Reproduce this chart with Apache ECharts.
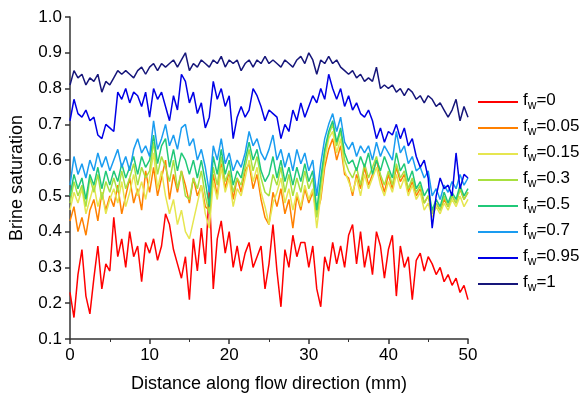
<!DOCTYPE html>
<html>
<head>
<meta charset="utf-8">
<script src="https://cdn.jsdelivr.net/npm/echarts@6/dist/echarts.min.js"></script>
<style>
  html, body { margin: 0; padding: 0; background: #fff; }
  #chart { width: 584px; height: 399px; }
</style>
</head>
<body>
<div id="chart"></div>
<script>
// distance sampled every 0.5 mm, 0..50
const step = 0.5;

const fw0 = [0.23,0.16,0.28,0.35,0.22,0.17,0.27,0.36,0.24,0.31,0.29,
  0.44,0.33,0.38,0.30,0.40,0.33,0.36,0.26,0.37,0.34,
  0.38,0.32,0.36,0.45,0.42,0.35,0.31,0.27,0.33,0.21,
  0.38,0.29,0.41,0.31,0.52,0.24,0.38,0.43,0.34,0.40,
  0.30,0.36,0.29,0.34,0.37,0.30,0.33,0.36,0.24,0.31,
  0.42,0.29,0.19,0.35,0.30,0.39,0.33,0.37,0.37,0.30,
  0.36,0.24,0.19,0.33,0.29,0.37,0.31,0.36,0.30,0.39,
  0.42,0.31,0.40,0.30,0.36,0.28,0.40,0.36,0.27,0.35,
  0.39,0.22,0.36,0.30,0.33,0.21,0.32,0.34,0.29,0.33,
  0.31,0.28,0.30,0.26,0.28,0.25,0.27,0.23,0.25,0.21];

const fw005 = [0.43,0.47,0.40,0.44,0.39,0.46,0.49,0.43,0.51,0.46,0.50,
  0.47,0.53,0.45,0.50,0.55,0.48,0.52,0.46,0.57,0.51,
  0.58,0.50,0.55,0.60,0.49,0.56,0.51,0.57,0.53,0.48,
  0.55,0.50,0.53,0.47,0.46,0.56,0.50,0.59,0.52,0.57,
  0.49,0.55,0.51,0.57,0.59,0.52,0.56,0.49,0.44,0.42,
  0.51,0.47,0.52,0.45,0.49,0.41,0.50,0.46,0.52,0.48,
  0.51,0.45,0.49,0.58,0.63,0.66,0.60,0.64,0.56,0.55,
  0.50,0.56,0.52,0.58,0.53,0.56,0.60,0.55,0.51,0.56,
  0.52,0.58,0.54,0.56,0.51,0.54,0.50,0.52,0.48,0.50,
  0.45,0.48,0.46,0.49,0.47,0.50,0.48,0.52,0.49,0.51];

const fw015 = [0.46,0.51,0.48,0.52,0.45,0.49,0.53,0.47,0.51,0.45,0.49,
  0.52,0.48,0.54,0.47,0.51,0.56,0.50,0.54,0.49,0.55,
  0.62,0.52,0.57,0.50,0.45,0.49,0.42,0.46,0.40,0.38,
  0.43,0.48,0.53,0.45,0.41,0.54,0.49,0.58,0.51,0.55,
  0.47,0.52,0.50,0.55,0.60,0.54,0.58,0.51,0.47,0.42,
  0.48,0.51,0.55,0.48,0.52,0.46,0.51,0.47,0.53,0.49,
  0.52,0.41,0.50,0.60,0.66,0.68,0.62,0.66,0.57,0.54,
  0.51,0.55,0.50,0.56,0.52,0.55,0.58,0.53,0.50,0.54,
  0.51,0.56,0.52,0.55,0.50,0.53,0.49,0.51,0.46,0.48,
  0.44,0.47,0.45,0.48,0.46,0.49,0.47,0.50,0.47,0.49];

const fw03 = [0.48,0.54,0.50,0.53,0.47,0.55,0.51,0.56,0.49,0.54,0.51,
  0.55,0.51,0.57,0.52,0.55,0.59,0.53,0.58,0.55,0.57,
  0.65,0.56,0.61,0.58,0.54,0.60,0.52,0.57,0.50,0.49,
  0.55,0.52,0.57,0.50,0.45,0.58,0.53,0.61,0.54,0.57,
  0.51,0.55,0.53,0.58,0.63,0.57,0.61,0.55,0.51,0.50,
  0.56,0.53,0.58,0.51,0.56,0.50,0.55,0.51,0.57,0.52,
  0.55,0.44,0.53,0.62,0.67,0.70,0.64,0.68,0.60,0.57,
  0.55,0.58,0.53,0.59,0.55,0.58,0.61,0.56,0.53,0.57,
  0.53,0.59,0.55,0.57,0.52,0.55,0.51,0.53,0.48,0.50,
  0.45,0.48,0.46,0.50,0.47,0.50,0.48,0.52,0.49,0.51];

const fw05 = [0.50,0.56,0.52,0.55,0.49,0.56,0.53,0.58,0.52,0.57,0.53,
  0.57,0.54,0.59,0.55,0.58,0.61,0.56,0.61,0.58,0.60,
  0.67,0.59,0.64,0.66,0.58,0.63,0.57,0.62,0.60,0.56,
  0.60,0.55,0.60,0.54,0.47,0.61,0.56,0.63,0.56,0.60,
  0.53,0.57,0.55,0.60,0.65,0.60,0.63,0.57,0.54,0.56,
  0.61,0.55,0.60,0.54,0.58,0.53,0.58,0.54,0.59,0.54,
  0.57,0.46,0.55,0.63,0.68,0.71,0.65,0.69,0.62,0.59,
  0.60,0.57,0.61,0.58,0.62,0.56,0.60,0.57,0.61,0.58,
  0.55,0.62,0.57,0.59,0.54,0.57,0.52,0.54,0.50,0.52,
  0.46,0.49,0.47,0.51,0.48,0.51,0.49,0.53,0.50,0.52];

const fw07 = [0.53,0.61,0.56,0.59,0.55,0.60,0.57,0.62,0.58,0.61,0.57,
  0.60,0.63,0.58,0.61,0.57,0.63,0.66,0.62,0.64,0.61,
  0.71,0.63,0.66,0.70,0.64,0.67,0.63,0.69,0.70,0.64,
  0.66,0.60,0.63,0.58,0.51,0.64,0.60,0.66,0.59,0.62,
  0.57,0.60,0.58,0.62,0.68,0.64,0.66,0.62,0.60,0.63,
  0.67,0.60,0.63,0.58,0.62,0.57,0.63,0.59,0.62,0.57,
  0.60,0.50,0.59,0.66,0.70,0.73,0.68,0.72,0.65,0.63,
  0.65,0.61,0.64,0.62,0.64,0.60,0.65,0.61,0.64,0.62,
  0.60,0.68,0.62,0.64,0.59,0.61,0.57,0.58,0.55,0.57,
  0.50,0.52,0.49,0.53,0.51,0.54,0.52,0.56,0.53,0.55];

const fw095 = [0.71,0.77,0.73,0.72,0.74,0.71,0.72,0.67,0.66,0.70,0.69,
  0.68,0.79,0.77,0.80,0.76,0.79,0.78,0.75,0.79,0.72,
  0.80,0.77,0.79,0.75,0.71,0.78,0.74,0.84,0.82,0.76,
  0.79,0.73,0.76,0.69,0.72,0.82,0.77,0.80,0.75,0.78,
  0.66,0.72,0.75,0.72,0.74,0.80,0.78,0.75,0.71,0.74,
  0.73,0.72,0.66,0.70,0.68,0.74,0.71,0.76,0.72,0.75,
  0.78,0.76,0.80,0.77,0.84,0.80,0.77,0.80,0.75,0.78,
  0.74,0.76,0.73,0.72,0.74,0.71,0.66,0.69,0.65,0.68,
  0.67,0.70,0.66,0.69,0.64,0.66,0.61,0.58,0.60,0.55,
  0.41,0.50,0.55,0.52,0.53,0.50,0.62,0.52,0.56,0.55];

const fw1 = [0.81,0.85,0.83,0.84,0.81,0.83,0.82,0.84,0.79,0.82,0.81,
  0.83,0.85,0.84,0.85,0.84,0.83,0.85,0.86,0.84,0.86,
  0.87,0.85,0.87,0.86,0.87,0.88,0.86,0.88,0.90,0.85,
  0.87,0.86,0.88,0.87,0.86,0.88,0.87,0.89,0.86,0.88,
  0.87,0.88,0.85,0.87,0.88,0.86,0.88,0.87,0.89,0.87,
  0.88,0.87,0.86,0.88,0.87,0.86,0.88,0.89,0.87,0.90,
  0.88,0.84,0.88,0.87,0.89,0.87,0.88,0.86,0.85,0.84,
  0.85,0.83,0.84,0.82,0.83,0.82,0.86,0.80,0.81,0.80,
  0.81,0.79,0.80,0.78,0.80,0.79,0.77,0.78,0.76,0.78,
  0.77,0.75,0.76,0.74,0.72,0.74,0.77,0.71,0.75,0.72];

const seriesNames = ["0", "0.05", "0.15", "0.3", "0.5", "0.7", "0.95", "1"];
const seriesData = [fw0, fw005, fw015, fw03, fw05, fw07, fw095, fw1];
const colors = ["#ff0000", "#ff8000", "#e6e650", "#a8e040", "#20c878", "#1a9cf0", "#0000e6", "#16167a"];

const font = "Liberation Sans, Arial, sans-serif";
const chart = echarts.init(document.getElementById("chart"));

chart.setOption({
  animation: false,
  color: colors,
  grid: { left: 68, right: 116, top: 17, bottom: 60 },
  legend: {
    orient: "vertical",
    left: 478,
    top: 90,
    padding: 0,
    itemWidth: 40,
    itemHeight: 2,
    itemGap: 4,
    icon: "rect",
    textStyle: {
      fontFamily: font, fontSize: 17, color: "#000",
      rich: {
        a: { fontFamily: font, fontSize: 17, color: "#000", lineHeight: 20, verticalAlign: "top" },
        b: { fontFamily: font, fontSize: 12, color: "#000", lineHeight: 12, verticalAlign: "bottom", padding: [10, 0, 0, 0] },
      },
    },
    formatter: (name) => "{a|f}{b|w}{a|=" + name + "}",
    data: seriesNames,
  },
  xAxis: {
    type: "value",
    min: 0,
    max: 50,
    interval: 10,
    name: "Distance along flow direction (mm)",
    nameLocation: "middle",
    nameGap: 36,
    nameTextStyle: { fontFamily: font, fontSize: 18, color: "#000" },
    axisLine: { lineStyle: { color: "#333", width: 1.5 } },
    axisTick: { length: 5, lineStyle: { color: "#333", width: 1.5 } },
    minorTick: { show: true, splitNumber: 2, length: 3, lineStyle: { color: "#333" } },
    axisLabel: { fontFamily: font, fontSize: 17, color: "#000", margin: 8 },
    splitLine: { show: false },
  },
  yAxis: {
    type: "value",
    min: 0.1,
    max: 1.0,
    interval: 0.1,
    name: "Brine saturation",
    nameLocation: "middle",
    nameGap: 44,
    nameTextStyle: { fontFamily: font, fontSize: 18, color: "#000" },
    axisLine: { show: true, lineStyle: { color: "#333", width: 1.5 } },
    axisTick: { show: true, length: 5, lineStyle: { color: "#333", width: 1.5 } },
    axisLabel: {
      fontFamily: font, fontSize: 17, color: "#000", margin: 8,
      formatter: (v) => v.toFixed(1),
    },
    splitLine: { show: false },
  },
  series: seriesNames.map((name, k) => ({
    name,
    type: "line",
    showSymbol: false,
    symbol: "none",
    lineStyle: { width: 1.5, color: colors[k] },
    data: seriesData[k].map((v, i) => [i * step, v]),
  })),
});
</script>
</body>
</html>
